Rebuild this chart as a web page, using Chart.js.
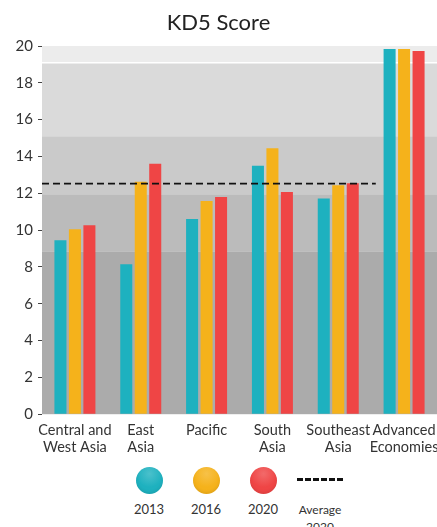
<!DOCTYPE html>
<html>
<head>
<meta charset="utf-8">
<script src="https://cdn.jsdelivr.net/npm/chart.js@4/dist/chart.umd.min.js"></script>
<style>
  html, body { margin: 0; padding: 0; background: #fff; }
  #wrap { position: relative; width: 437px; height: 527px; overflow: hidden; font-family: Lato, "Open Sans", sans-serif; }
  #c { position: absolute; left: 0; top: 0; }
  .leg { position: absolute; text-align: center; color: #333; font-size: 13px; }
  .dot { position: absolute; width: 27px; height: 27px; border-radius: 50%; }
</style>
</head>
<body>
<div id="wrap">
  <canvas id="c" width="437" height="463"></canvas>
  <div id="legend"></div>
</div>
<script>
const categories = [["Central and", "West Asia"], ["East", "Asia"], "Pacific", ["South", "Asia"], ["Southeast", "Asia"], ["Advanced", "Economies"]];
const seriesNames = ["2013", "2016", "2020"];
const v2013 = [9.45, 8.14, 10.6, 13.49, 11.72, 19.84];
const v2016 = [10.05, 12.62, 11.58, 14.44, 12.43, 19.84];
const v2020 = [10.27, 13.6, 11.8, 12.07, 12.54, 19.73];
const average2020 = 12.52;
const averageLabel = ["Average", "2020"];
const bandEdges = [0, 8.85, 11.95, 15.1, 19.1, 20];
const yTicks = [0, 2, 4, 6, 8, 10, 12, 14, 16, 18, 20];

const colors = ["#1eb1bf", "#f5b21b", "#ef4545"];
const bandColors = ["#ababab", "#bbbbbb", "#cacaca", "#dadada", "#ececec"];

const bandsPlugin = {
  id: 'bands',
  beforeDatasetsDraw(chart) {
    const { ctx, chartArea, scales } = chart;
    const y = scales.y;
    ctx.save();
    for (let i = 0; i < bandEdges.length - 1; i++) {
      const y0 = y.getPixelForValue(bandEdges[i]);
      const y1 = y.getPixelForValue(bandEdges[i + 1]);
      ctx.fillStyle = bandColors[i];
      ctx.fillRect(chartArea.left, y1, chartArea.right - chartArea.left, y0 - y1);
    }
    const ys = Math.round(y.getPixelForValue(bandEdges[bandEdges.length - 2]));
    ctx.fillStyle = '#ffffff';
    ctx.fillRect(chartArea.left, ys - 1, chartArea.right - chartArea.left, 1.5);
    ctx.restore();
  },
  afterDatasetsDraw(chart) {
    const { ctx, chartArea, scales } = chart;
    const yp = scales.y.getPixelForValue(average2020);
    const xEnd = scales.x.getPixelForValue(4) + 0.57 * (scales.x.getPixelForValue(1) - scales.x.getPixelForValue(0));
    ctx.save();
    ctx.strokeStyle = '#111';
    ctx.lineWidth = 1.8;
    ctx.setLineDash([7, 4]);
    ctx.beginPath();
    ctx.moveTo(chartArea.left, yp);
    ctx.lineTo(xEnd, yp);
    ctx.stroke();
    ctx.restore();
  }
};

const ds = [v2013, v2016, v2020].map((d, i) => ({
  label: seriesNames[i],
  data: d,
  backgroundColor: colors[i],
  borderWidth: 0,
  categoryPercentage: 0.66,
  barPercentage: 0.83
}));

new Chart(document.getElementById('c'), {
  type: 'bar',
  data: { labels: categories, datasets: ds },
  plugins: [bandsPlugin],
  options: {
    responsive: false,
    animation: false,
    layout: { padding: { left: 0, right: 0, top: 0, bottom: 0 } },
    plugins: {
      legend: { display: false },
      tooltip: { enabled: false },
      title: {
        display: true,
        text: 'KD5 Score',
        color: '#222',
        font: { family: 'Lato', size: 22, weight: 'normal' },
        padding: { top: 10, bottom: 9.6 }
      }
    },
    scales: {
      x: {
        grid: { display: false, drawTicks: false },
        border: { display: false },
        afterFit(scale) { scale.paddingLeft = 0; scale.paddingRight = 0; },
        ticks: {
          color: '#333',
          font: { family: 'Lato', size: 14.5 },
          padding: 7,
          maxRotation: 0,
          minRotation: 0,
          autoSkip: false
        }
      },
      y: {
        min: 0,
        max: 20,
        afterBuildTicks(scale) { scale.ticks = yTicks.map(v => ({ value: v })); },
        afterFit(scale) { scale.width = 42; },
        grid: { drawOnChartArea: false, drawTicks: true, tickLength: 4, color: '#444' },
        border: { display: false },
        ticks: {
          color: '#333',
          font: { family: 'Lato', size: 15 },
          padding: 5
        }
      }
    }
  }
});

const legend = document.getElementById('legend');
const dotX = [149, 206, 263];
seriesNames.forEach((n, i) => {
  const d = document.createElement('div');
  d.className = 'dot';
  d.style.left = (dotX[i] - 13.5) + 'px';
  d.style.top = (480 - 13.5) + 'px';
  const c = colors[i];
  d.style.background = `radial-gradient(circle at 50% 25%, ${c}cc 0%, ${c} 55%, ${c} 100%)`;
  d.style.boxShadow = 'inset 0 -2px 3px rgba(0,0,0,0.08)';
  legend.appendChild(d);
  const t = document.createElement('div');
  t.className = 'leg';
  t.style.left = (dotX[i] - 30) + 'px';
  t.style.width = '60px';
  t.style.top = '501px';
  t.textContent = n;
  legend.appendChild(t);
});
const dash = document.createElement('div');
dash.style.position = 'absolute';
dash.style.left = '297px';
dash.style.top = '478px';
dash.style.width = '46px';
dash.style.height = '0';
dash.style.borderTop = '3px dashed #111';
legend.appendChild(dash);
const at = document.createElement('div');
at.className = 'leg';
at.style.left = '280px';
at.style.width = '80px';
at.style.top = '501px';
at.style.fontSize = '12px';
at.style.lineHeight = '17px';
at.innerHTML = averageLabel.join('<br>');
legend.appendChild(at);
</script>
</body>
</html>
